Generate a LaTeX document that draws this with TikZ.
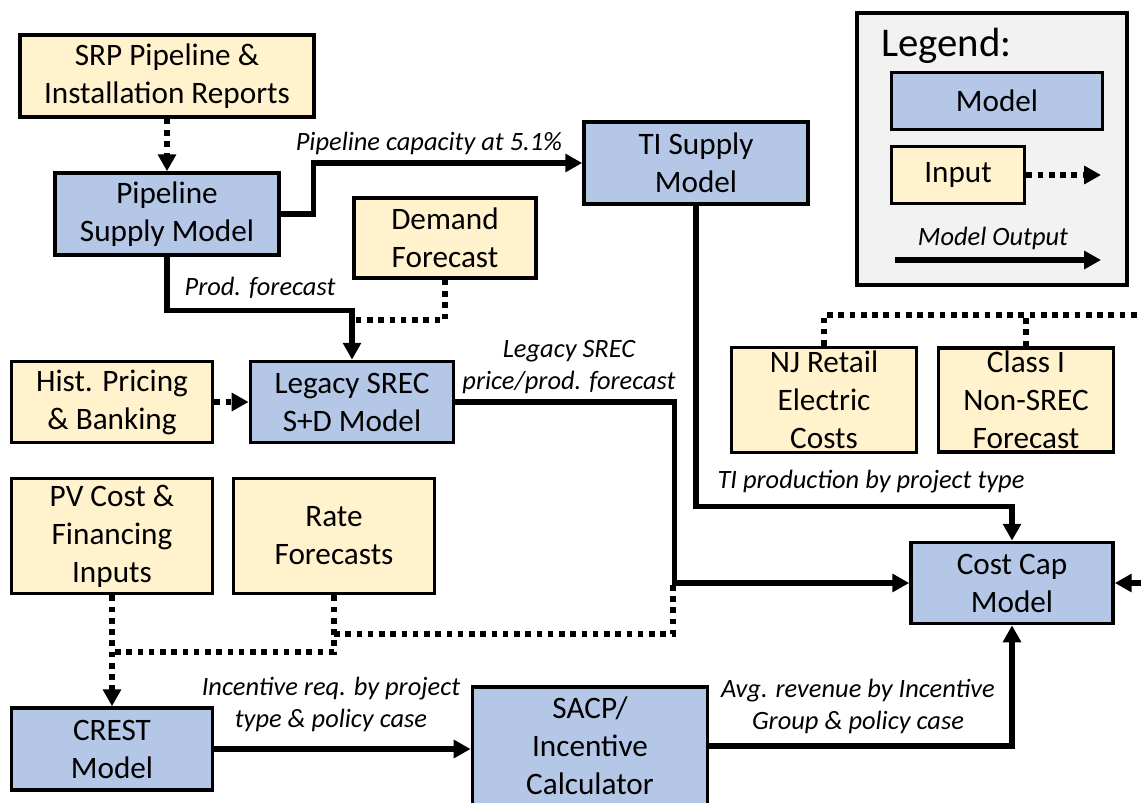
\documentclass[tikz,border=0pt]{standalone}
\usepackage{fontspec}
\setmainfont{Carlito}
\usetikzlibrary{arrows.meta}
\usetikzlibrary{calc}
\definecolor{modelblue}{RGB}{180,199,231}
\definecolor{inputyel}{RGB}{255,242,204}
\definecolor{legendgray}{RGB}{242,242,242}

\tikzset{
  box/.style={draw=black, line width=2.5pt, align=center, inner sep=2pt,
    font=\fontsize{22.2}{27}\selectfont},
  model/.style={box, fill=modelblue},
  input/.style={box, fill=inputyel},
  flow/.style={line width=3.6pt, -{Triangle[length=12pt,width=12.5pt]}},
  feed/.style={line width=3.6pt, dash pattern=on 4pt off 4pt},
  feedarrow/.style={feed, -{Triangle[length=12pt,width=12.5pt]}},
  lbl/.style={align=center, inner sep=0pt, font=\fontsize{18.8}{22.7}\selectfont\itshape},
}

\begin{document}
\begin{tikzpicture}[x=0.025cm, y=-0.025cm]
\useasboundingbox (0,0) rectangle (1141,802);
\clip (0,0) rectangle (1141,802);

%---------------------------------------
% Legend
%---------------------------------------
\node[draw, line width=3pt, fill=legendgray, minimum width=6.73cm, minimum height=6.8cm] (legend) at (992,149) {};
\node[anchor=west, inner sep=0pt, font=\fontsize{29}{32}\selectfont] (legtitle) at (881,46) {Legend:};
\node[model, minimum width=5.28cm, minimum height=1.43cm] (legmodel) at (997,101) {Model};
\node[input, minimum width=3.33cm, minimum height=1.43cm] (leginput) at (958,175) {Input};
\coordinate (legdotend) at (1101,175);
\draw[feedarrow] (leginput.east) -- (legdotend);
\node[lbl] (legout) at (993,238) {Model Output};
\coordinate (legsolbeg) at (895,260);
\coordinate (legsolend) at (1101,260);
\draw[flow] (legsolbeg) -- (legsolend);

%---------------------------------------
% Boxes
%---------------------------------------
\node[input, minimum width=7.35cm, minimum height=2.05cm] (srp) at (167,76) {SRP Pipeline \&\\Installation Reports};
\node[model, minimum width=5.6cm, minimum height=2.05cm] (pipe) at (167,214) {Pipeline\\Supply Model};
\node[model, minimum width=5.6cm, minimum height=2.05cm] (ti) at (696,163) {TI Supply\\Model};
\node[input, minimum width=4.55cm, minimum height=2.0cm] (demand) at (445,238) {Demand\\Forecast};
\node[input, minimum width=5.03cm, minimum height=2.03cm] (hist) at (112,402) {Hist. Pricing\\\& Banking};
\node[model, minimum width=5.08cm, minimum height=2.03cm] (legacy) at (352,402) {Legacy SREC\\S+D Model};
\node[input, minimum width=5.03cm, minimum height=2.88cm] (pv) at (112,536) {PV Cost \&\\Financing\\Inputs};
\node[input, minimum width=5.03cm, minimum height=2.88cm] (rate) at (334,536) {Rate\\Forecasts};
\node[model, minimum width=5.03cm, minimum height=2.05cm] (crest) at (112,749) {CREST\\Model};
\node[model, minimum width=5.88cm, minimum height=2.95cm] (sacp) at (590,746) {SACP/\\Incentive\\Calculator};
\node[input, minimum width=4.63cm, minimum height=2.63cm] (nj) at (824,400) {NJ Retail\\Electric\\Costs};
\node[input, minimum width=4.38cm, minimum height=2.6cm] (classi) at (1026,400) {Class I\\Non-SREC\\Forecast};
\node[model, minimum width=5.05cm, minimum height=2.03cm] (cap) at (1012,583) {Cost Cap\\Model};

%---------------------------------------
% Model outputs
%---------------------------------------
\draw[flow] (pipe.east) -- ++(33,0) |- (ti.west);
\node[lbl] (lblcap) at (429,143) {Pipeline capacity at 5.1\%};

\draw[flow] (pipe.south) -- ++(0,54) -| (legacy.north);
\node[lbl] (lblprod) at (260,288) {Prod. forecast};

\draw[flow] (legacy.east) -- ++(219,0) |- (cap.west);
\node[lbl] (lbllegacy) at (569,367) {Legacy SREC\\price/prod. forecast};

\draw[flow] (ti.south) -- ++(0,301) -| (cap.north);
\node[lbl] (lblti) at (871,482) {TI production by project type};

\draw[flow] (crest.east) -- (crest.east -| sacp.west);
\node[lbl] (lblcrest) at (331,704) {Incentive req. by project\\type \& policy case};

\draw[flow] (sacp.east) -| (cap.south);
\node[lbl] (lblsacp) at (858,706) {Avg. revenue by Incentive\\Group \& policy case};

\coordinate (rgtin) at (1141,583);
\draw[flow] (rgtin) -- (cap.east);

%---------------------------------------
% Inputs (dotted)
%---------------------------------------
\draw[feedarrow] (srp.south) -- (pipe.north);
\draw[feedarrow] (hist.east) -- (legacy.west);
\draw[feedarrow] (pv.south) -- (crest.north);

\coordinate (jdem) at ($(legacy.north |- 0,320)$);
\draw[feed] (demand.south) |- (jdem);

\coordinate (jpv) at ($(pv.south |- 0,652)$);
\draw[feed] (rate.south) |- (jpv);
\coordinate (jrate) at ($(rate.south |- 0,634)$);
\coordinate (jleg) at (673,585);
\draw[feed] (jrate) -| (jleg);

\coordinate (rgttop) at (1141,315);
\draw[feed] (nj.north) |- (rgttop);
\coordinate (jclass) at ($(classi.north |- 0,315)$);
\draw[feed] (classi.north) -- (jclass);

\end{tikzpicture}
\end{document}
